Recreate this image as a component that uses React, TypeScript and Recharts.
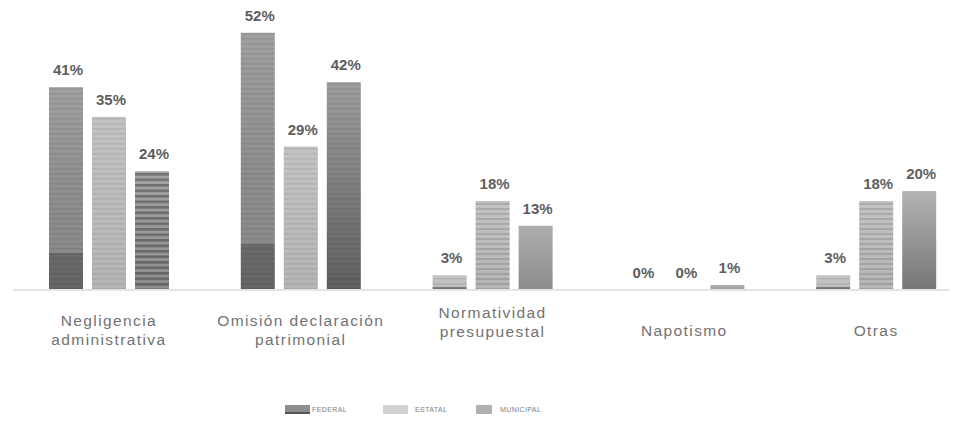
import React from "react";
import { BarChart, Bar, XAxis, YAxis, LabelList } from "recharts";

// Categories (each split into the lines shown under the axis)
const categoryLines: string[][] = [
  ["Negligencia", "administrativa"],
  ["Omisión declaración", "patrimonial"],
  ["Normatividad", "presupuestal"],
  ["Napotismo"],
  ["Otras"],
];

// Share of cases per government level (%)
const federal = [41, 52, 3, 0, 3];
const estatal = [35, 29, 18, 0, 18];
const municipal = [24, 42, 13, 1, 20];

const legendNames = ["FEDERAL", "ESTATAL", "MUNICIPAL"];

const data = categoryLines.map((lines, i) => ({
  name: lines.join(" "),
  federal: federal[i],
  estatal: estatal[i],
  municipal: municipal[i],
}));

type Stop = [number, string];
const gradients: { id: string; stops: Stop[] }[] = [
  { id: "fedTall", stops: [[0, "#a0a0a0"], [0.5, "#8f8f8f"], [0.82, "#8a8a8a"], [0.82, "#6b6b6b"], [1, "#646464"]] },
  { id: "fedShort", stops: [[0, "#c6c6c6"], [0.78, "#bdbdbd"], [0.78, "#7e7e7e"], [1, "#777777"]] },
  { id: "est", stops: [[0, "#c3c3c3"], [1, "#b5b5b5"]] },
  { id: "munStriped", stops: [[0, "#a4a4a4"], [1, "#8e8e8e"]] },
  { id: "munDark", stops: [[0, "#9d9d9d"], [0.5, "#7f7f7f"], [1, "#5f5f5f"]] },
  { id: "munMid", stops: [[0, "#adadad"], [1, "#8b8b8b"]] },
  { id: "munOtras", stops: [[0, "#b3b3b3"], [1, "#767676"]] },
  { id: "munSmall", stops: [[0, "#aaaaaa"], [1, "#a2a2a2"]] },
];

// Per-bar fill (gradient id) and stripe overlay (pattern id)
const barStyles: Record<string, { fill: string; stripe: string }[]> = {
  federal: [
    { fill: "fedTall", stripe: "stripeFine" },
    { fill: "fedTall", stripe: "stripeFine" },
    { fill: "fedShort", stripe: "stripeFine" },
    { fill: "fedShort", stripe: "stripeFine" },
    { fill: "fedShort", stripe: "stripeFine" },
  ],
  estatal: [
    { fill: "est", stripe: "stripeFine" },
    { fill: "est", stripe: "stripeFine" },
    { fill: "est", stripe: "stripeMid" },
    { fill: "est", stripe: "stripeMid" },
    { fill: "est", stripe: "stripeMid" },
  ],
  municipal: [
    { fill: "munStriped", stripe: "stripeBold" },
    { fill: "munDark", stripe: "stripeFine" },
    { fill: "munMid", stripe: "stripeNone" },
    { fill: "munSmall", stripe: "stripeNone" },
    { fill: "munOtras", stripe: "stripeNone" },
  ],
};

const makeShape = (series: string) => (props: any) => {
  const { x, y, width, height, index } = props;
  if (!height || height <= 0) return <g />;
  const st = barStyles[series][index] ?? barStyles[series][0];
  return (
    <g>
      <rect x={x} y={y} width={width} height={height} fill={`url(#${st.fill})`} />
      {st.stripe !== "stripeNone" && (
        <rect x={x} y={y} width={width} height={height} fill={`url(#${st.stripe})`} />
      )}
    </g>
  );
};

const valueLabel = (props: any) => {
  const { x, y, width, value } = props;
  return (
    <text
      x={Number(x) + Number(width) / 2 + 2}
      y={Number(y) - 12}
      textAnchor="middle"
      fill="#5e5e5e"
      fontSize={15}
      fontWeight="bold"
      fontFamily="'Liberation Sans', Arial, sans-serif"
    >
      {`${value}%`}
    </text>
  );
};

const CategoryTick = (props: any) => {
  const { x, payload } = props;
  const lines = categoryLines[payload.index] ?? [String(payload.value)];
  // vertical centre of the label block (chart coordinates)
  const centre = payload.index === 2 ? 314 : 322;
  const lineH = 18.5;
  const first = centre - ((lines.length - 1) * lineH) / 2;
  return (
    <g>
      {lines.map((line, i) => (
        <text
          key={i}
          x={x}
          y={first + i * lineH}
          textAnchor="middle"
          dominantBaseline="central"
          fill="#727272"
          fontSize={15.5}
          letterSpacing={1.4}
          fontFamily="'Liberation Sans', Arial, sans-serif"
        >
          {line}
        </text>
      ))}
    </g>
  );
};

const legendSwatches = [
  { x: 277, w: 25, color: "#8e8e8e", foot: "#555555", textX: 304 },
  { x: 375, w: 25, color: "#d2d2d2", foot: "", textX: 407 },
  { x: 468, w: 16, color: "#b0b0b0", foot: "", textX: 492 },
];

export default function App() {
  return (
    <div style={{ position: "relative", width: 949, height: 413, overflow: "hidden", background: "#fff" }}>
      <BarChart
        width={970}
        height={413}
        data={data}
        margin={{ top: 5, right: 6, left: 5, bottom: 101 }}
        barSize={34}
        barGap={9}
      >
        <defs>
          {gradients.map((g) => (
            <linearGradient key={g.id} id={g.id} x1="0" y1="0" x2="0" y2="1">
              {g.stops.map(([o, c], i) => (
                <stop key={i} offset={o} stopColor={c} />
              ))}
            </linearGradient>
          ))}
          <pattern id="stripeFine" patternUnits="userSpaceOnUse" width={8} height={5}>
            <rect x={0} y={0} width={8} height={1.6} fill="#000" fillOpacity={0.07} />
          </pattern>
          <pattern id="stripeMid" patternUnits="userSpaceOnUse" width={8} height={5}>
            <rect x={0} y={0} width={8} height={2} fill="#000" fillOpacity={0.12} />
          </pattern>
          <pattern id="stripeBold" patternUnits="userSpaceOnUse" width={8} height={5.5}>
            <rect x={0} y={0} width={8} height={2.6} fill="#000" fillOpacity={0.3} />
          </pattern>
        </defs>
        <XAxis
          dataKey="name"
          tick={<CategoryTick />}
          tickLine={false}
          axisLine={{ stroke: "#e4e4e4", strokeWidth: 2 }}
          interval={0}
          height={30}
        />
        <YAxis hide domain={[0, 56]} />
        <Bar dataKey="federal" isAnimationActive={false} shape={makeShape("federal")}>
          <LabelList dataKey="federal" content={valueLabel} />
        </Bar>
        <Bar dataKey="estatal" isAnimationActive={false} shape={makeShape("estatal")}>
          <LabelList dataKey="estatal" content={valueLabel} />
        </Bar>
        <Bar dataKey="municipal" isAnimationActive={false} shape={makeShape("municipal")}>
          <LabelList dataKey="municipal" content={valueLabel} />
        </Bar>
      </BarChart>
      <svg
        width={949}
        height={20}
        style={{ position: "absolute", left: 0, top: 391 }}
      >
        {legendSwatches.map((s, i) => (
          <g key={legendNames[i]}>
            <rect x={s.x} y={6} width={s.w} height={9} fill={s.color} />
            {s.foot && <rect x={s.x} y={13} width={s.w} height={2} fill={s.foot} />}
            <text
              x={s.textX}
              y={10}
              dominantBaseline="central"
              fill="#808080"
              fontSize={7}
              letterSpacing={0.4}
              fontFamily="'Liberation Sans', Arial, sans-serif"
            >
              {legendNames[i]}
            </text>
          </g>
        ))}
      </svg>
    </div>
  );
}
